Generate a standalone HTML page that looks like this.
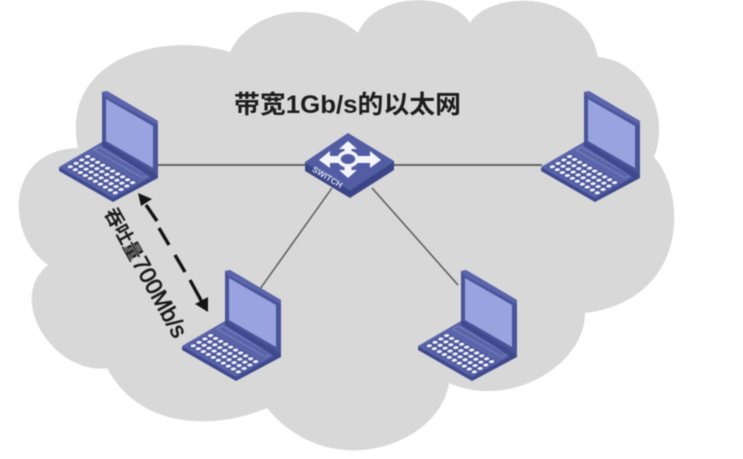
<!DOCTYPE html>
<html lang="zh">
<head>
<meta charset="utf-8">
<title>带宽1Gb/s的以太网</title>
<style>
html,body{margin:0;padding:0;background:#fff;width:743px;height:459px;overflow:hidden}
svg{display:block;filter:blur(.55px)}
text{font-family:"Liberation Sans","Noto Sans CJK SC",sans-serif;fill:#1c1c1c}
</style>
</head>
<body>
<svg width="743" height="459" viewBox="0 0 743 459" xmlns="http://www.w3.org/2000/svg">
<defs>
<pattern id="keys" patternUnits="userSpaceOnUse" width="1" height="1" patternTransform="matrix(5 2.9 5.75 -3.4 -37 75)">
<rect width="1" height="1" fill="#4a5398"/>
<circle cx=".5" cy=".5" r=".36" fill="#eef0fa"/>
</pattern>
<g id="laptop">
<polygon points="-43,76 0,52 56,81 56,86 11,110 -43,79" fill="#3f4a8e"/>
<polygon points="-43,75 0,50 56,81 11,106" fill="#5a64a8"/>
<polygon points="-37,75 -14,61.500 36,90.500 13,104" fill="url(#keys)"/>
<polygon points="-8,58 -3,55 46,83 41,86" fill="#5a64a8" stroke="#8790cb" stroke-width=".7"/>
<polygon points="0,0 5,-1 56,29 56,84 50,84 0,53" fill="#4a5499"/>
<polygon points="0,0 5,-1 56,29 56,33 4,5" fill="#5b65ab"/>
<polygon points="4,7 51,34 51,76 4,49" fill="#99a3df"/>
<polygon points="0,49 51,80 56,84 56,86 50,86 0,54" fill="#3f4a8e"/>
</g>
</defs>

<rect width="743" height="459" fill="#ffffff"/>
<path fill="#d8d8d8" d="M230 52 C250 8 320 -2 358 33 C375 -8 450 -10 470 23 C490 -10 585 -12 598 57 C640 60 672 110 654 157 C688 195 688 300 585 313 C585 365 510 410 449 383 C440 445 330 485 267 408 C215 430 140 430 107 368 C55 375 5 300 48 265 C5 235 5 150 78 148 C60 60 160 30 230 52 Z"/>

<g stroke="#5a5a5a" fill="none">
<line x1="158" y1="165" x2="308" y2="165" stroke-width="1.800"/>
<line x1="390" y1="165" x2="542" y2="165" stroke-width="1.800"/>
<line x1="332" y1="188" x2="260" y2="289" stroke-width="1.500"/>
<line x1="372" y1="188" x2="458" y2="285" stroke-width="1.500"/>
</g>

<use href="#laptop" x="102" y="92"/>
<use href="#laptop" x="225" y="271"/>
<use href="#laptop" x="584" y="92"/>
<use href="#laptop" x="461" y="271"/>

<!-- switch -->
<polygon points="305,162 305,171 350,198 394,170 394,161 350,190" fill="#3b4688"/>
<polygon points="305,162 348,133 394,161 350,190" fill="#525da3"/>
<g fill="#f4f5fb">
<polygon points="348,141 357,149 351.500,149 351.500,154 344.500,154 344.500,149 339,149"/>
<polygon points="348,178 339,170 344.500,170 344.500,165 351.500,165 351.500,170 357,170"/>
<polygon points="319,160 330,151 330,156 339,156 339,163 330,163 330,168"/>
<polygon points="381,160 370,151 370,156 357,156 357,163 370,163 370,168"/>
</g>
<ellipse cx="348" cy="159" rx="9" ry="6.800" fill="none" stroke="#f4f5fb" stroke-width="3.500"/>
<ellipse cx="348" cy="159" rx="5.500" ry="3.800" fill="#525da3"/>
<text transform="translate(311.500,171) rotate(31)" style="font-size:8.500px;font-weight:bold;fill:#d8dbf0">SWITCH</text>

<!-- title -->
<text x="234" y="113" textLength="227" lengthAdjust="spacingAndGlyphs" style="font-size:25px;font-weight:bold">带宽1Gb/s的以太网</text>

<!-- dashed double arrow -->
<g stroke="#141414" stroke-width="3.400" fill="none">
<line x1="146" y1="205" x2="157" y2="221"/>
<line x1="159" y1="228" x2="169" y2="245"/>
<line x1="175" y1="255" x2="185" y2="272"/>
<line x1="190" y1="280" x2="203" y2="304"/>
</g>
<polygon points="138,193 152,199 141,206" fill="#141414"/>
<polygon points="208,312 195,304 208,297" fill="#141414"/>

<!-- rotated label -->
<text transform="translate(104,212.500) rotate(61)"><tspan style="font-size:19px;font-weight:bold">吞吐量</tspan><tspan style="font-size:23px;stroke:#1c1c1c;stroke-width:.7px">700Mb/s</tspan></text>
</svg>
</body>
</html>
